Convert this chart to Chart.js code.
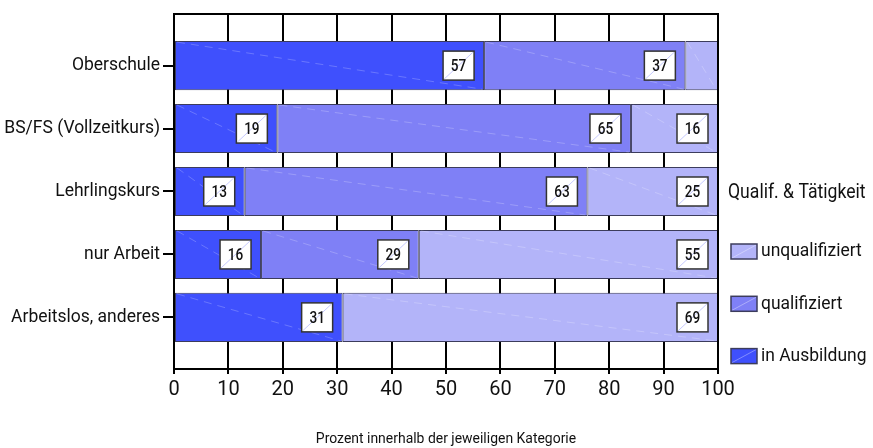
<!DOCTYPE html>
<html>
<head>
<meta charset="utf-8">
<script src="https://cdn.jsdelivr.net/npm/chart.js@4/dist/chart.umd.min.js"></script>
<style>
  html, body { margin: 0; padding: 0; background: #fff; }
  #wrap { width: 873px; height: 448px; position: relative; }
</style>
</head>
<body>
<div id="wrap"><canvas id="c" width="873" height="448"></canvas></div>
<script>
// Categories (top to bottom) and percentage shares per series
const categories = ['Oberschule', 'BS/FS (Vollzeitkurs)', 'Lehrlingskurs', 'nur Arbeit', 'Arbeitslos, anderes'];
const inAusbildung   = [57, 19, 13, 16, 31];
const qualifiziert   = [37, 65, 63, 29, 0];
const unqualifiziert = [6, 16, 25, 55, 69];
const seriesNames = ['in Ausbildung', 'qualifiziert', 'unqualifiziert'];
const xTickValues = [0, 10, 20, 30, 40, 50, 60, 70, 80, 90, 100];
const legendTitle = 'Qualif. & Tätigkeit';
const xAxisTitle = 'Prozent innerhalb der jeweiligen Kategorie';

const FONT = "Roboto, 'Liberation Sans', sans-serif";
const colors = ['#3f50fd', '#7f80f6', '#b3b4f9'];
const edge = '#3c3c5c';

const toPoints = arr => arr.map((v, i) => ({ x: v, y: i }));

const datasets = [inAusbildung, qualifiziert, unqualifiziert].map((vals, k) => ({
  label: seriesNames[k],
  data: toPoints(vals),
  backgroundColor: colors[k],
  borderColor: edge,
  borderWidth: 1,
  borderSkipped: false,
  barPercentage: 0.78,
  categoryPercentage: 1.0
}));

// draw condensed-looking text by squeezing it horizontally
function narrowText(ctx, text, x, y, align, squeeze) {
  ctx.save();
  ctx.translate(x, y);
  ctx.scale(squeeze, 1);
  ctx.textAlign = align;
  ctx.fillText(text, 0, 0);
  ctx.restore();
}

// faint diagonal sheen across every segment
const sheen = {
  id: 'sheen',
  afterDatasetsDraw(chart) {
    const ctx = chart.ctx;
    const area = chart.chartArea;
    ctx.save();
    ctx.beginPath();
    ctx.rect(area.left, area.top, area.right - area.left, area.bottom - area.top);
    ctx.clip();
    chart.data.datasets.forEach((ds, di) => {
      chart.getDatasetMeta(di).data.forEach((bar, i) => {
        if (!ds.data[i].x) return;
        const p = bar.getProps(['x', 'y', 'base', 'height'], true);
        ctx.strokeStyle = 'rgba(255,255,255,0.22)';
        ctx.lineWidth = 1;
        ctx.setLineDash([8, 6]);
        ctx.beginPath();
        ctx.moveTo(p.base + 2, p.y - p.height / 2 + 1);
        ctx.lineTo(Math.min(p.x, area.right) - 2, p.y + p.height / 2 - 1);
        ctx.stroke();
      });
    });
    ctx.restore();
  }
};

// plot frame drawn over the bars
const frame = {
  id: 'frame',
  afterDatasetsDraw(chart) {
    const { ctx, chartArea: a } = chart;
    ctx.save();
    ctx.strokeStyle = '#000';
    ctx.lineWidth = 2;
    ctx.strokeRect(a.left, a.top, a.right - a.left, a.bottom - a.top);
    ctx.restore();
  }
};

// boxed value labels at the right end of each segment
const valueBoxes = {
  id: 'valueBoxes',
  afterDatasetsDraw(chart) {
    const { ctx, chartArea: a } = chart;
    ctx.save();
    chart.data.datasets.forEach((ds, di) => {
      chart.getDatasetMeta(di).data.forEach((bar, i) => {
        const v = ds.data[i].x;
        if (v < 10) return;
        const p = bar.getProps(['x', 'y'], true);
        const right = Math.min(p.x, a.right) - 10;
        const w = 31, h = 29;
        const left = right - w, top = p.y - h / 2;
        ctx.fillStyle = '#fff';
        ctx.fillRect(left, top, w, h);
        ctx.strokeStyle = 'rgba(110,120,255,0.4)';
        ctx.lineWidth = 1;
        ctx.beginPath();
        ctx.moveTo(left + 1, top + h - 1);
        ctx.lineTo(left + w - 1, top + 1);
        ctx.stroke();
        ctx.strokeStyle = '#333';
        ctx.lineWidth = 1.5;
        ctx.strokeRect(left, top, w, h);
        ctx.fillStyle = '#111';
        ctx.font = '500 17px ' + FONT;
        ctx.textBaseline = 'middle';
        narrowText(ctx, String(v), left + w / 2, p.y + 1, 'center', 0.8);
      });
    });
    ctx.restore();
  }
};

// legend at the right and the axis caption below
const sideLegend = {
  id: 'sideLegend',
  afterDraw(chart) {
    const { ctx, chartArea: a } = chart;
    ctx.save();
    ctx.fillStyle = '#111';
    ctx.textBaseline = 'middle';
    ctx.font = '20px ' + FONT;
    narrowText(ctx, legendTitle, 728, 193, 'left', 0.88);
    const order = [2, 1, 0];
    order.forEach((di, k) => {
      const cy = 251.5 + k * 52.3;
      const bx = 731, bw = 26, bh = 15, by = cy - bh / 2;
      ctx.fillStyle = chart.data.datasets[di].backgroundColor;
      ctx.fillRect(bx, by, bw, bh);
      ctx.strokeStyle = 'rgba(255,255,255,0.35)';
      ctx.lineWidth = 1;
      ctx.beginPath();
      ctx.moveTo(bx + 1, by + bh - 1);
      ctx.lineTo(bx + bw - 1, by + 1);
      ctx.stroke();
      ctx.strokeStyle = edge;
      ctx.lineWidth = 1.5;
      ctx.strokeRect(bx, by, bw, bh);
      ctx.fillStyle = '#111';
      ctx.font = '19px ' + FONT;
      narrowText(ctx, chart.data.datasets[di].label, 761, cy, 'left', 0.92);
    });
    ctx.font = '15px ' + FONT;
    narrowText(ctx, xAxisTitle, (a.left + a.right) / 2, 439, 'center', 0.93);
    ctx.restore();
  }
};

new Chart(document.getElementById('c'), {
  type: 'bar',
  data: { datasets },
  options: {
    indexAxis: 'y',
    responsive: false,
    animation: false,
    devicePixelRatio: 1,
    layout: { padding: { left: 0, right: 155, top: 14, bottom: 0 } },
    plugins: { legend: { display: false }, tooltip: { enabled: false } },
    scales: {
      x: {
        type: 'linear',
        stacked: true,
        min: 0,
        max: 100,
        afterBuildTicks: axis => { axis.ticks = xTickValues.map(v => ({ value: v })); },
        afterFit: axis => { axis.height = 79; },
        ticks: { color: '#111', font: { family: FONT, size: 20 }, padding: 4 },
        grid: { color: '#000', lineWidth: 2, tickLength: 5 },
        border: { color: '#000', width: 2 }
      },
      y: {
        type: 'linear',
        stacked: true,
        reverse: true,
        offset: false,
        min: -0.82,
        max: 4.82,
        afterBuildTicks: axis => { axis.ticks = categories.map((c, i) => ({ value: i })); },
        afterFit: axis => { axis.width = 174; },
        ticks: {
          color: '#111',
          font: { family: FONT, size: 17.5 },
          padding: 3,
          callback: v => categories[v]
        },
        grid: { drawOnChartArea: false, offset: false, color: '#000', lineWidth: 2, tickLength: 11 },
        border: { color: '#000', width: 2 }
      }
    }
  },
  plugins: [sheen, frame, valueBoxes, sideLegend]
});
</script>
</body>
</html>
